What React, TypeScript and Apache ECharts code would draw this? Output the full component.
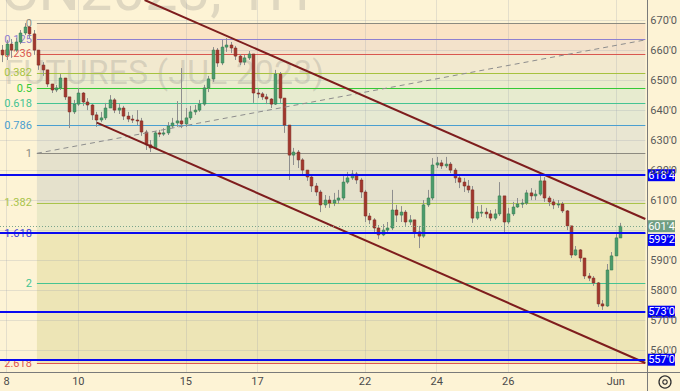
import React, { useEffect, useRef } from "react";
import * as echarts from "echarts";

// ---- candle data (1 bar ≈ 3 hours of the hourly chart) ----
const firstOpen = 660.2;
const closes = [
  658.6, 662.2, 660.2, 662.9, 665.9, 667.9, 665.6, 660.2, 655.2, 653.6,
  648.9, 646.9, 647.6, 650.9, 644.6, 639.6, 642.2, 645.9, 642.9, 641.9,
  638.6, 636.9, 637.6, 640.9, 643.6, 640.2, 640.9, 638.2, 637.2, 636.9,
  636.6, 632.9, 628.6, 627.6, 632.6, 632.2, 632.6, 634.9, 635.9, 636.6,
  635.6, 637.6, 639.6, 640.2, 642.2, 647.6, 650.6, 660.2, 655.9, 661.2,
  661.9, 660.9, 658.2, 656.2, 657.6, 658.9, 645.9, 645.6, 644.6, 643.9,
  642.2, 652.2, 644.2, 635.2, 625.2, 626.2, 623.6, 620.2, 617.9, 614.9,
  612.9, 608.6, 610.2, 609.2, 610.2, 610.9, 616.2, 617.6, 618.9, 616.9,
  612.9, 604.9, 603.6, 600.9, 598.6, 600.2, 600.9, 606.9, 605.2, 606.2,
  602.9, 603.6, 599.6, 598.2, 608.6, 610.9, 621.9, 622.6, 621.6, 622.2,
  620.2, 617.6, 616.2, 614.9, 613.6, 604.2, 606.2, 606.2, 605.6, 604.2,
  605.6, 611.6, 602.9, 605.6, 607.9, 608.9, 609.2, 612.6, 611.6, 612.2,
  616.6, 610.9, 609.6, 608.6, 608.9, 606.6, 601.6, 591.9, 593.6, 590.9,
  584.9, 584.2, 582.6, 575.6, 574.9, 586.9, 591.6, 597.6, 601.5,
];
const highs = [
  661.9, 663.6, 663.9, 664.2, 666.9, 669.2, 668.2, 666.9, 660.2, 656.2,
  653.6, 648.9, 648.6, 652.2, 650.2, 644.2, 643.6, 647.6, 646.2, 644.2,
  642.2, 639.6, 639.6, 642.6, 645.2, 644.2, 642.2, 641.6, 639.6, 638.6,
  640.2, 637.6, 633.6, 630.2, 633.2, 633.6, 634.2, 636.2, 637.6, 643.2,
  654.2, 640.9, 641.6, 641.9, 643.6, 648.6, 651.6, 661.2, 660.9, 663.6,
  664.2, 662.9, 661.6, 658.9, 658.6, 659.9, 658.6, 647.6, 646.2, 645.6,
  644.2, 653.6, 652.9, 643.6, 635.2, 627.6, 626.9, 624.2, 620.2, 618.6,
  615.9, 613.6, 611.9, 611.6, 612.6, 613.6, 618.2, 619.6, 620.2, 619.6,
  617.6, 613.6, 605.9, 604.2, 601.9, 602.2, 602.9, 613.6, 608.6, 608.2,
  606.9, 605.2, 603.6, 601.6, 610.2, 613.6, 624.2, 624.6, 623.6, 624.6,
  622.9, 620.9, 618.9, 617.6, 616.9, 614.9, 608.2, 608.6, 607.6, 606.9,
  607.2, 616.2, 610.9, 607.6, 609.6, 610.9, 610.6, 613.6, 614.2, 613.6,
  618.6, 617.9, 611.6, 610.6, 610.2, 609.6, 606.9, 601.6, 594.9, 593.9,
  590.9, 585.9, 584.9, 582.9, 576.9, 588.9, 592.9, 598.9, 602.6,
];
const lows = [
  656.2, 656.9, 657.6, 659.6, 662.2, 665.2, 664.2, 658.6, 653.6, 651.6,
  647.9, 645.9, 646.2, 646.9, 643.6, 634.2, 638.9, 641.6, 641.6, 640.2,
  636.9, 634.6, 636.2, 636.9, 640.9, 639.2, 638.9, 636.9, 636.2, 635.9,
  635.2, 631.6, 626.9, 626.2, 627.2, 631.2, 631.6, 631.9, 634.2, 634.6,
  634.2, 634.6, 636.9, 638.6, 639.6, 641.6, 646.2, 649.6, 654.6, 655.2,
  659.6, 659.2, 656.9, 655.2, 655.2, 656.9, 642.6, 644.2, 643.6, 642.2,
  640.9, 641.9, 642.6, 632.6, 616.9, 621.9, 620.9, 618.6, 616.6, 612.9,
  611.6, 606.2, 607.6, 607.6, 608.2, 608.9, 610.2, 615.6, 616.9, 615.6,
  610.9, 602.9, 602.2, 599.6, 597.2, 598.2, 598.9, 600.2, 602.9, 602.9,
  601.6, 601.9, 597.6, 594.2, 597.6, 607.9, 610.2, 620.9, 620.6, 620.9,
  619.2, 615.9, 614.2, 612.9, 612.6, 602.6, 603.6, 604.6, 604.2, 603.2,
  603.6, 604.9, 599.6, 602.2, 604.9, 607.6, 607.6, 608.6, 610.2, 610.2,
  611.6, 609.6, 608.2, 607.2, 607.6, 605.9, 600.2, 590.9, 591.6, 589.6,
  583.9, 583.2, 581.6, 574.6, 573.6, 574.6, 586.9, 591.6, 597.6,
];

// ---- axes ----
const dayLabels = ["8", "10", "15", "17", "22", "24", "26", "Jun"];
const dayStartBar = [1, 17, 41, 57, 81, 97, 113, 137];
const priceTicks = [560, 570, 580, 590, 600, 610, 620, 630, 640, 650, 660, 670];
const priceLabelTicks = [560, 570, 580, 590, 610, 620, 630, 640, 650, 660, 670];
const X_MAX = 144.1;
const Y_MIN = 552.9;
const Y_MAX = 676.9;

// ---- fibonacci drawing ----
const fibTop = 669.13;
const fibBottom = 625.8;
const fibStartX = 8.24;
const fibLevels = [0, 0.125, 0.236, 0.382, 0.5, 0.618, 0.786, 1, 1.382, 1.618, 2, 2.618];
const fibLabels = ["0", "0.125", "0.236", "0.382", "0.5", "0.618", "0.786", "1", "1.382", "1.618", "2", "2.618"];
const fibColors = ["#8c8a80", "#8f7fd0", "#d9574f", "#a6c23f", "#35c935", "#45c493", "#4a9fd0", "#8c8a80", "#a9c44b", "#3d3dd6", "#45c493", "#e0564f"];
const fibBandColors = ["#fbe3c5", "#f3e2cb", "#f2e9cf", "#ebecce", "#e7ebcf", "#e6e9d2", "#e9e6d2", "#e5e1cc", "#eae9c7", "#eee6b6", "#ede5b6"];

// ---- other drawings ----
const hLines = [618.5, 599.25, 573, 557];
const hLineTagShift = [0, 7, 0, 0];
const lastPrice = 601.5;
const channelUpper = [[32.29, 676.9], [144.1, 603.9]];
const channelLower = [[21.6, 636.0], [144.1, 555.9]];
const fibTrend = [[8.24, 625.8], [144.1, 663.6]];

const fmtPrice = (v: number) => {
  const w = Math.floor(v + 1e-9);
  const e = Math.round((v - w) * 8);
  return `${w}'${e}`;
};
const fibPrice = (l: number) => fibTop - l * (fibTop - fibBottom);

const UP = "#4a9c6c";
const DOWN = "#a3362c";
const WICK = "#8e8e8e";
const FONT = "Roboto, 'Liberation Sans', sans-serif";

export default function App() {
  const ref = useRef<HTMLDivElement>(null);
  useEffect(() => {
    if (!ref.current) return;
    const chart = echarts.init(ref.current, null, { renderer: "svg" });
    const candleData = closes.map((c, i) => [i + 0.5, i === 0 ? firstOpen : closes[i - 1], c, lows[i], highs[i]]);

    const bands = fibLevels.slice(0, -1).map((l, k) => [
      { coord: [fibStartX, fibPrice(l)], itemStyle: { color: fibBandColors[k] } },
      { coord: [X_MAX, fibPrice(fibLevels[k + 1])] },
    ]);
    const fibLineData = fibLevels.map((l, k) => [
      {
        coord: [fibStartX, fibPrice(l)],
        lineStyle: { color: fibColors[k], width: 1, type: "solid" },
        label: { show: true, position: "start", formatter: fibLabels[k], color: fibColors[k], fontSize: 11, fontFamily: FONT, distance: 5 },
      },
      { coord: [X_MAX, fibPrice(l)] },
    ]);

    const option: any = {
      animation: false,
      backgroundColor: "#fdf3d5",
      grid: { left: 0, right: 33, top: 0, bottom: 19 },
      xAxis: {
        type: "value",
        min: 0,
        max: X_MAX,
        axisLine: { show: false },
        axisTick: { show: false },
        splitLine: { show: false },
        axisLabel: {
          customValues: dayStartBar.map((b) => b + 0.5),
          formatter: (v: number) => {
            const k = dayStartBar.findIndex((b) => Math.abs(b + 0.5 - v) < 0.01);
            return k >= 0 ? dayLabels[k] : "";
          },
          color: "#4a4a4a",
          fontSize: 11,
          fontFamily: FONT,
          margin: 4,
        },
      },
      yAxis: {
        type: "value",
        position: "right",
        min: Y_MIN,
        max: Y_MAX,
        axisLine: { show: false },
        axisTick: { show: false },
        splitLine: { show: false },
        axisLabel: {
          customValues: priceLabelTicks,
          formatter: (v: number) => fmtPrice(v),
          color: "#5a5a5a",
          fontSize: 11,
          fontFamily: FONT,
          margin: 5,
        },
      },
      graphic: [
        {
          type: "text",
          z: 1,
          x: 310,
          y: 19,
          silent: true,
          style: { text: "ZCN2023, 1H", fill: "rgba(120,120,120,0.22)", font: `58px ${FONT}`, align: "right", verticalAlign: "bottom" },
        },
        {
          type: "text",
          z: 1,
          x: 324,
          y: 72,
          silent: true,
          style: { text: "CORN FUTURES (JUL 2023)", fill: "rgba(120,120,120,0.22)", font: `34px ${FONT}`, align: "right", verticalAlign: "middle" },
        },
        { type: "line", z: 10, silent: true, shape: { x1: 0, y1: 372.5, x2: 680, y2: 372.5 }, style: { stroke: "#7a7a7a", lineWidth: 1 } },
        { type: "line", z: 10, silent: true, shape: { x1: 647.5, y1: 0, x2: 647.5, y2: 391 }, style: { stroke: "#7a7a7a", lineWidth: 1 } },
        { type: "circle", z: 10, silent: true, shape: { cx: 665, cy: 382, r: 6 }, style: { fill: "none", stroke: "#333", lineWidth: 1.3 } },
        { type: "circle", z: 10, silent: true, shape: { cx: 665, cy: 382, r: 2.2 }, style: { fill: "none", stroke: "#333", lineWidth: 1.2 } },
      ],
      series: [
        {
          type: "line",
          name: "bands",
          data: [],
          markArea: { silent: true, z: 0.5, data: bands },
        },
        {
          type: "line",
          name: "grid",
          data: [],
          markLine: {
            silent: true,
            z: 1.5,
            symbol: ["none", "none"],
            label: { show: false },
            lineStyle: { color: "rgba(140,150,170,0.22)", width: 1, type: "solid" },
            data: [
              ...priceTicks.map((p) => ({ yAxis: p })),
              ...dayStartBar.map((b) => ({ xAxis: b + 0.5 })),
            ],
          },
        },
        {
          type: "line",
          name: "fib",
          data: [],
          markLine: { silent: true, z: 2, symbol: ["none", "none"], data: fibLineData },
        },
        {
          type: "custom",
          name: "candles",
          z: 3,
          data: candleData,
          encode: { x: 0, y: [1, 2, 3, 4] },
          renderItem: (params: any, api: any) => {
            const x = api.value(0);
            const o = api.value(1);
            const c = api.value(2);
            const l = api.value(3);
            const h = api.value(4);
            const pO = api.coord([x, o]);
            const pC = api.coord([x, c]);
            const pL = api.coord([x, l]);
            const pH = api.coord([x, h]);
            const w = Math.max(2, api.size([1, 0])[0] * 0.6);
            const up = c >= o;
            const top = Math.min(pO[1], pC[1]);
            const bh = Math.max(1, Math.abs(pO[1] - pC[1]));
            const cx = Math.round(pO[0]) + 0.5;
            return {
              type: "group",
              children: [
                { type: "line", shape: { x1: cx, y1: pH[1], x2: cx, y2: pL[1] }, style: { stroke: WICK, lineWidth: 1 } },
                { type: "rect", shape: { x: cx - w / 2, y: top, width: w, height: bh }, style: { fill: up ? UP : DOWN, stroke: up ? "#2f7a4e" : "#7d2620", lineWidth: 0.6 } },
              ],
            };
          },
        },
        {
          type: "line",
          name: "drawings",
          data: [],
          markLine: {
            silent: true,
            z: 6,
            symbol: ["none", "none"],
            label: { show: false },
            data: [
              [
                { coord: fibTrend[0], lineStyle: { color: "#8d8d8d", width: 1, type: [5, 4] } },
                { coord: fibTrend[1] },
              ],
              [
                { coord: channelUpper[0], lineStyle: { color: "#7e1d1d", width: 2, type: "solid" } },
                { coord: channelUpper[1] },
              ],
              [
                { coord: channelLower[0], lineStyle: { color: "#7e1d1d", width: 2, type: "solid" } },
                { coord: channelLower[1] },
              ],
              { yAxis: lastPrice, lineStyle: { color: "#7aa58c", width: 1, type: [1, 2] } },
              ...hLines.map((v) => ({ yAxis: v, lineStyle: { color: "#0a0af0", width: 2, type: "solid" } })),
            ],
          },
        },
      ],
    };
    chart.setOption(option);

    const tag = (v: number, bg: string, dy: number) => {
      const y = (chart.convertToPixel({ yAxisIndex: 0 }, v) as number) + dy;
      return {
        type: "group",
        z: 20,
        silent: true,
        children: [
          { type: "rect", shape: { x: 648, y: y - 6, width: 27, height: 12 }, style: { fill: bg } },
          { type: "text", x: 661.5, y: y, style: { text: fmtPrice(v), fill: "#ffffff", font: `11px ${FONT}`, align: "center", verticalAlign: "middle" } },
        ],
      };
    };
    chart.setOption({
      graphic: [
        ...option.graphic,
        ...hLines.map((v, k) => tag(v, "#0000f5", hLineTagShift[k])),
        tag(lastPrice, "#6f9e84", 0),
      ],
    });
    return () => chart.dispose();
  }, []);
  return <div ref={ref} style={{ position: "fixed", left: 0, top: 0, width: 680, height: 391 }} />;
}
